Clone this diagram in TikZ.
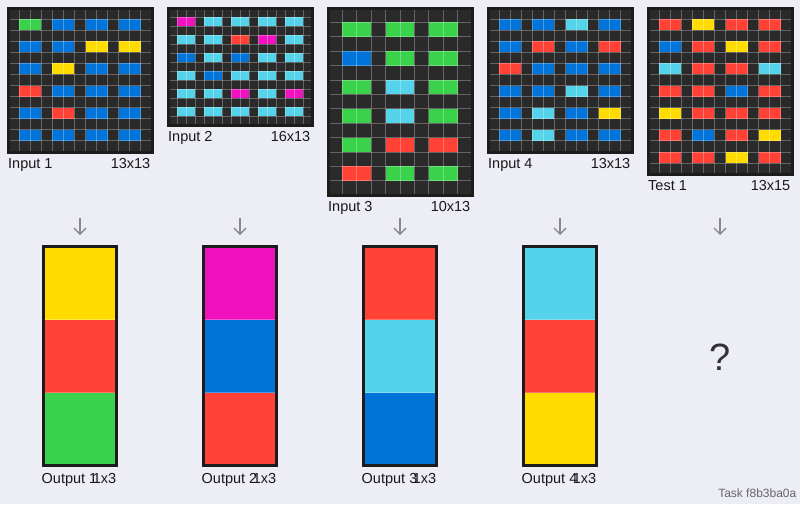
\documentclass[tikz,border=0pt]{standalone}
\usepackage{fontspec}
\setmainfont{Liberation Sans}
\usetikzlibrary{arrows.meta}
\definecolor{bgC}{HTML}{ECEDF5}
\definecolor{cellbg}{HTML}{2A2A2A}
\definecolor{frameC}{HTML}{1C1C1C}
\definecolor{arrowC}{HTML}{888888}
\definecolor{qC}{HTML}{333333}
\definecolor{taskC}{HTML}{666666}
\definecolor{cB}{HTML}{0074D9}
\definecolor{cR}{HTML}{FF4136}
\definecolor{cG}{HTML}{3AD24A}
\definecolor{cY}{HTML}{FFDC00}
\definecolor{cM}{HTML}{F012BE}
\definecolor{cC}{HTML}{55D3EA}
\tikzset{
  gline/.style={draw=white, draw opacity=0.28, line width=0.9pt},
  gframe/.style={draw=frameC, line width=3pt},
  lbl/.style={font=\fontsize{14.5}{16}\selectfont, inner sep=0pt, text=black!90},
  flow/.style={draw=arrowC, line width=1.4pt, -{Straight Barb[length=6pt,width=12pt]}},
}
\newcommand\arcgrid[7]{%
  \pgfmathsetmacro\gcell{144/#2}%
  \pgfmathsetmacro\gxo{#1-72}%
  \pgfmathsetmacro\gh{#3*\gcell}%
  \pgfmathtruncatemacro\gcm{#2-1}%
  \pgfmathtruncatemacro\grm{#3-1}%
  \fill[cellbg] (\gxo,8) rectangle ++(144,\gh);
  \foreach \row [count=\ri] in {#4} {
    \foreach \kol [count=\ki] in \row {
      \fill[fill=c\kol] ({\gxo+\gcell*(3*\ki-2)},{8+\gcell*(2*\ri-1)}) rectangle ++({2*\gcell},\gcell);
    }
  }
  \foreach \i in {1,...,\gcm} \draw[gline] ({\gxo+\i*\gcell},8) -- ++(0,\gh);
  \foreach \j in {1,...,\grm} \draw[gline] (\gxo,{8+\j*\gcell}) -- ++(144,0);
  \draw[gframe] (\gxo,8) rectangle ++(144,\gh);
  \node[lbl, anchor=base west] (#7l) at ({#1-72},{8+\gh+16}) {#5};
  \node[lbl, anchor=base east] (#7r) at ({#1+70.5},{8+\gh+16}) {#6};
}
\newcommand\outgrid[5]{%
  \foreach \kol [count=\ri] in {#2} {
    \fill[fill=c\kol] ({#1-36.5},{246.5+73*(\ri-1)}) rectangle ++(73,73);
  }
  \draw[gline] ({#1-36.5},319.5) -- ++(73,0);
  \draw[gline] ({#1-36.5},392.5) -- ++(73,0);
  \draw[gframe] ({#1-36.5},246.5) rectangle ++(73,219);
  \node[lbl, anchor=base west] (#5l) at ({#1-38.5},483) {#3};
  \node[lbl, anchor=base east] (#5r) at ({#1+36.5},483) {#4};
}
\begin{document}
\begin{tikzpicture}[x=1pt,y=-1pt]
\useasboundingbox (0,0) rectangle (800,504);
\fill[bgC] (0,0) rectangle (800,504);
% inputs
\arcgrid{80}{13}{13}{{G,B,B,B},{B,B,Y,Y},{B,Y,B,B},{R,B,B,B},{B,R,B,B},{B,B,B,B}}{Input 1}{13x13}{in1}
\arcgrid{240}{16}{13}{{M,C,C,C,C},{C,C,R,M,C},{B,C,B,C,C},{C,B,C,C,C},{C,C,M,C,M},{C,C,C,C,C}}{Input 2}{16x13}{in2}
\arcgrid{400}{10}{13}{{G,G,G},{B,G,G},{G,C,G},{G,C,G},{G,R,R},{R,G,G}}{Input 3}{10x13}{in3}
\arcgrid{560}{13}{13}{{B,B,C,B},{B,R,B,R},{R,B,B,B},{B,B,C,B},{B,C,B,Y},{B,C,B,B}}{Input 4}{13x13}{in4}
\arcgrid{720}{13}{15}{{R,Y,R,R},{B,R,Y,R},{C,R,R,C},{R,R,B,R},{Y,R,R,R},{R,B,R,Y},{R,R,Y,R}}{Test 1}{13x15}{te1}
% arrows
\foreach \cx [count=\n] in {80,240,400,560,720} {
  \coordinate (as\n) at (\cx,218);
  \coordinate (ae\n) at (\cx,235);
  \draw[flow] (as\n) -- (ae\n);
}
% outputs
\outgrid{80}{Y,R,G}{Output 1}{1x3}{out1}
\outgrid{240}{M,B,R}{Output 2}{1x3}{out2}
\outgrid{400}{R,C,B}{Output 3}{1x3}{out3}
\outgrid{560}{C,R,Y}{Output 4}{1x3}{out4}
\node[font=\fontsize{38}{40}\selectfont, text=qC, inner sep=0pt] (quest) at (720,357) {?};
\node[font=\fontsize{12}{14}\selectfont, text=taskC, anchor=base east, inner sep=0pt] (task) at (796.5,497) {Task f8b3ba0a};
\end{tikzpicture}
\end{document}
